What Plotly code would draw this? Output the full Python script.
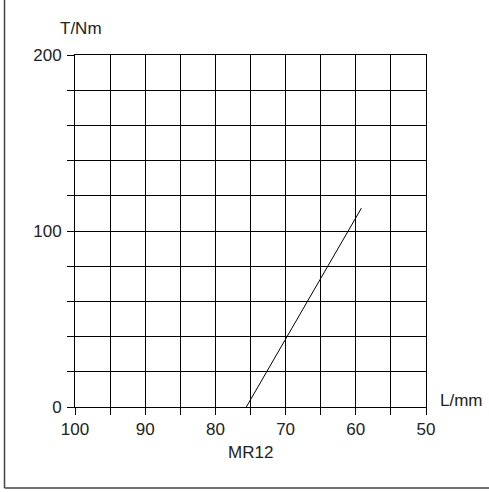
import plotly.graph_objects as go

# curve MR12: length L (mm) vs torque T (Nm)
length_mm = [75.6, 59.2]
torque_nm = [0, 113]

x_grid = [100, 95, 90, 85, 80, 75, 70, 65, 60, 55, 50]
x_labels = ["100", "", "90", "", "80", "", "70", "", "60", "", "50"]
y_grid = [0, 20, 40, 60, 80, 100, 120, 140, 160, 180, 200]
y_labels = ["0", "", "", "", "", "100", "", "", "", "", "200"]

FONT = "Liberation Sans, Arial, sans-serif"
FSIZE = 17

fig = go.Figure()
fig.add_trace(go.Scatter(x=length_mm, y=torque_nm, mode="lines",
                         line=dict(color="black", width=1), showlegend=False))

axis_common = dict(showgrid=True, gridcolor="black", gridwidth=1, automargin=False,
                   showline=True, linecolor="black", linewidth=1, mirror=True,
                   ticks="outside", ticklen=7, tickcolor="black", tickwidth=1,
                   zeroline=False, tickfont=dict(family=FONT, size=FSIZE, color="#222"))

fig.update_xaxes(range=[100, 50], tickmode="array", tickvals=x_grid, ticktext=x_labels,
                 **axis_common)
fig.update_yaxes(range=[0, 200], tickmode="array", tickvals=y_grid, ticktext=y_labels,
                 ticklabelstandoff=2, **axis_common)


# place the text labels relative to the plot area (pixel -> paper)
def px_x(p):
    return (p - 75) / 351


def px_y(p):
    return (407 - p) / 352


for txt, cx, cy in [("T/Nm", 81, 28), ("L/mm", 461, 400), ("MR12", 250, 452)]:
    fig.add_annotation(text=txt, x=px_x(cx), y=px_y(cy), xref="paper", yref="paper",
                       showarrow=False, xanchor="center", yanchor="middle",
                       font=dict(family=FONT, size=FSIZE, color="#222"))

# outer frame (left and bottom only)
fig.add_shape(type="line", xref="paper", yref="paper", x0=px_x(4.5), x1=px_x(4.5),
              y0=px_y(0), y1=px_y(488), line=dict(color="#444", width=1.5))
fig.add_shape(type="line", xref="paper", yref="paper", x0=px_x(4.5), x1=px_x(489),
              y0=px_y(488), y1=px_y(488), line=dict(color="#444", width=1.5))

fig.update_layout(width=489, height=492, margin=dict(l=75, r=63, t=55, b=85),
                  plot_bgcolor="white", paper_bgcolor="white",
                  font=dict(family=FONT, size=FSIZE, color="#222"))

fig.write_html("out.html", config={"displayModeBar": False},
               post_script="document.body.style.margin='0';")
